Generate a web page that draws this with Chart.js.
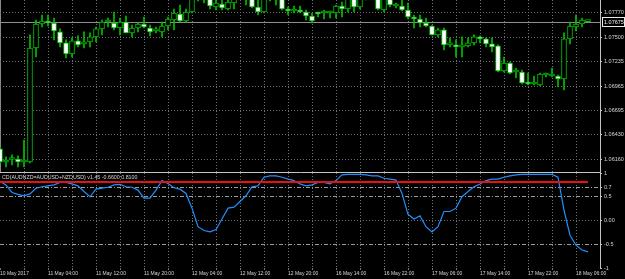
<!DOCTYPE html>
<html>
<head>
<meta charset="utf-8">
<script src="https://cdn.jsdelivr.net/npm/chart.js@4.4.1/dist/chart.umd.min.js"></script>
<style>
  html, body { margin: 0; padding: 0; background: #000; }
  body { width: 625px; height: 279px; position: relative; overflow: hidden; }
  canvas { position: absolute; left: 0; }
  #price { top: 0; }
  #cd { top: 166px; }
</style>
</head>
<body>
<canvas id="price" width="625" height="173"></canvas>
<canvas id="cd" width="625" height="113"></canvas>
<script>
// AUDUSD H1 candles (10 May 20:00 -> 18 May 08:00)
const openPrice = [
  1.06272, 1.06128, 1.06156, 1.06161, 1.06128, 1.06128, 1.07384, 1.07649, 1.07682, 1.07660,
  1.07561, 1.07440, 1.07318, 1.07462, 1.07429, 1.07451, 1.07506, 1.07594, 1.07671, 1.07660,
  1.07605, 1.07671, 1.07550, 1.07605, 1.07649, 1.07605, 1.07572, 1.07561, 1.07627, 1.07693,
  1.07759, 1.07682, 1.07781, 1.07946, 1.07957, 1.07946, 1.07836, 1.07869, 1.07814, 1.07880,
  1.07946, 1.07979, 1.07946, 1.07836, 1.07781, 1.07924, 1.07957, 1.07935, 1.07803, 1.07792,
  1.07803, 1.07781, 1.07737, 1.07781, 1.07770, 1.07770, 1.07770, 1.07847, 1.07814, 1.07935,
  1.07836, 1.07935, 1.07968, 1.07935, 1.07803, 1.07924, 1.07847, 1.07847, 1.07803, 1.07726,
  1.07704, 1.07660, 1.07627, 1.07528, 1.07583, 1.07418, 1.07407, 1.07396, 1.07407, 1.07440,
  1.07506, 1.07484, 1.07429, 1.07407, 1.07131, 1.07219, 1.07120, 1.07120, 1.06999, 1.06988,
  1.06977, 1.07087, 1.07076, 1.07076, 1.07043, 1.07484, 1.07616, 1.07649, 1.07675
];
const highPrice = [
  1.06294, 1.06184, 1.06206, 1.06195, 1.06371, 1.07528, 1.07693, 1.07748, 1.07748, 1.07715,
  1.07594, 1.07473, 1.07495, 1.07517, 1.07561, 1.07550, 1.07616, 1.07693, 1.07715, 1.07781,
  1.07715, 1.07737, 1.07638, 1.07660, 1.07726, 1.07638, 1.07616, 1.07671, 1.07726, 1.07814,
  1.07858, 1.07814, 1.07979, 1.08001, 1.08023, 1.07979, 1.07935, 1.07924, 1.07924, 1.07957,
  1.08023, 1.08023, 1.07979, 1.07924, 1.07957, 1.08001, 1.08001, 1.07968, 1.07836, 1.07847,
  1.07847, 1.07803, 1.07770, 1.07781, 1.07803, 1.07792, 1.07858, 1.07891, 1.07946, 1.07957,
  1.07957, 1.08001, 1.08012, 1.07957, 1.07968, 1.07957, 1.07880, 1.07913, 1.07880, 1.07748,
  1.07748, 1.07715, 1.07638, 1.07605, 1.07605, 1.07495, 1.07473, 1.07506, 1.07495, 1.07528,
  1.07517, 1.07495, 1.07495, 1.07418, 1.07285, 1.07230, 1.07164, 1.07142, 1.07109, 1.07076,
  1.07109, 1.07109, 1.07164, 1.07087, 1.07550, 1.07671, 1.07748, 1.07715, 1.07675
];
const lowPrice = [
  1.06106, 1.06073, 1.06095, 1.06073, 1.06073, 1.06117, 1.07285, 1.07616, 1.07627, 1.07473,
  1.07396, 1.07274, 1.07285, 1.07396, 1.07384, 1.07396, 1.07451, 1.07528, 1.07616, 1.07583,
  1.07528, 1.07550, 1.07506, 1.07561, 1.07605, 1.07517, 1.07550, 1.07506, 1.07583, 1.07583,
  1.07671, 1.07671, 1.07770, 1.07902, 1.07880, 1.07814, 1.07803, 1.07803, 1.07803, 1.07814,
  1.07924, 1.07858, 1.07825, 1.07748, 1.07770, 1.07902, 1.07858, 1.07803, 1.07748, 1.07770,
  1.07770, 1.07693, 1.07660, 1.07726, 1.07704, 1.07715, 1.07715, 1.07726, 1.07781, 1.07781,
  1.07814, 1.07913, 1.07924, 1.07803, 1.07781, 1.07836, 1.07825, 1.07792, 1.07704, 1.07605,
  1.07616, 1.07616, 1.07528, 1.07506, 1.07362, 1.07396, 1.07285, 1.07285, 1.07396, 1.07418,
  1.07440, 1.07396, 1.07340, 1.07120, 1.07120, 1.07098, 1.07054, 1.06988, 1.06977, 1.06977,
  1.06966, 1.07065, 1.07065, 1.06955, 1.06922, 1.07429, 1.07572, 1.07616, 1.07675
];
const closePrice = [
  1.06128, 1.06150, 1.06156, 1.06128, 1.06128, 1.07384, 1.07649, 1.07682, 1.07660, 1.07572,
  1.07440, 1.07318, 1.07462, 1.07418, 1.07451, 1.07506, 1.07594, 1.07671, 1.07671, 1.07605,
  1.07671, 1.07550, 1.07605, 1.07649, 1.07616, 1.07561, 1.07572, 1.07627, 1.07704, 1.07770,
  1.07682, 1.07781, 1.07935, 1.07968, 1.07979, 1.07847, 1.07880, 1.07825, 1.07891, 1.07935,
  1.07979, 1.07946, 1.07836, 1.07781, 1.07924, 1.07957, 1.07935, 1.07814, 1.07792, 1.07814,
  1.07781, 1.07737, 1.07682, 1.07759, 1.07770, 1.07770, 1.07847, 1.07814, 1.07924, 1.07836,
  1.07935, 1.07968, 1.07946, 1.07814, 1.07924, 1.07858, 1.07847, 1.07803, 1.07726, 1.07704,
  1.07660, 1.07627, 1.07528, 1.07583, 1.07418, 1.07418, 1.07396, 1.07407, 1.07440, 1.07506,
  1.07484, 1.07429, 1.07396, 1.07131, 1.07219, 1.07109, 1.07120, 1.06999, 1.06988, 1.06988,
  1.07098, 1.07087, 1.07076, 1.07043, 1.07484, 1.07627, 1.07649, 1.07693, 1.07675
];

// CD indicator buffer, one value per candle
const cdValues = [
  0.82, 0.75, 0.59, 0.55, 0.52, 0.56, 0.68, 0.71, 0.73, 0.75,
  0.80, 0.80, 0.77, 0.73, 0.61, 0.50, 0.66, 0.68, 0.70, 0.75,
  0.76, 0.71, 0.70, 0.64, 0.47, 0.47, 0.64, 0.84, 0.78, 0.69,
  0.66, 0.57, 0.26, -0.13, -0.21, -0.24, -0.19, 0.03, 0.26, 0.28,
  0.40, 0.52, 0.71, 0.73, 0.91, 0.94, 0.94, 0.91, 0.87, 0.84,
  0.77, 0.73, 0.75, 0.80, 0.80, 0.77, 0.84, 0.96, 0.97, 0.97,
  0.97, 0.96, 0.94, 0.94, 0.89, 0.87, 0.85, 0.57, 0.13, 0.03,
  0.10, -0.13, -0.24, -0.13, 0.19, 0.19, 0.26, 0.50, 0.61, 0.71,
  0.77, 0.84, 0.87, 0.87, 0.91, 0.94, 0.96, 0.97, 0.97, 0.97,
  0.97, 0.97, 0.97, 0.91, 0.22, -0.31, -0.52, -0.62, -0.66
];
const signalLevel = 0.81;
const indicatorName = 'CD(AUDNZD=AUDUSD+NZDUSD) v1.45';

const timeLabels = [
  '10 May 2017', '11 May 04:00', '11 May 12:00', '11 May 20:00', '12 May 04:00',
  '12 May 12:00', '12 May 20:00', '16 May 14:00', '16 May 22:00', '17 May 06:00',
  '17 May 14:00', '17 May 22:00', '18 May 06:00'
];
const priceTicks = [1.07770, 1.07500, 1.07235, 1.06965, 1.06695, 1.06430, 1.06160];
const cdTicks = [1, 0.7, 0.5, 0, -0.5, -1];
const cdTickLabels = ['1', '0.7', '0.5', '0.00', '-0.5', '-1'];

// look
const GREEN = '#00c000';
const GRID = '#6a7178';
const LEVEL = '#9a9a9a';
const AXIS = '#c4c4c4';
const TEXT = '#d6d6d6';
const FONT = 'Liberation Sans';
const NONE = 'rgba(0,0,0,0)';

Chart.defaults.font.family = FONT;

const bars = openPrice.map((_, i) => i);
const lastClose = closePrice[closePrice.length - 1];
// vertical grid every 4 bars, time labels every 8 bars
const vTicks = [];
for (let v = 0; v <= 96; v += 4) vTicks.push(v);

const isTick = (c, v) => c.tick && c.tick.value === v;

// Цена: линия текущей цены и метка на шкале
const lastPricePlugin = {
    id: 'lastPrice',
    beforeDatasetsDraw(chart) {
        const { ctx, chartArea, scales: { y } } = chart;
        const py = Math.round(y.getPixelForValue(lastClose)) + 0.5;
        ctx.save();
        ctx.strokeStyle = '#8e8e8e';
        ctx.lineWidth = 1;
        ctx.beginPath();
        ctx.moveTo(chartArea.left, py);
        ctx.lineTo(chartArea.right, py);
        ctx.stroke();
        ctx.restore();
    },
    afterDraw(chart) {
        const { ctx, scales: { y } } = chart;
        const py = Math.round(y.getPixelForValue(lastClose));
        ctx.save();
        ctx.fillStyle = '#000';
        ctx.fillRect(y.left + 2, py - 5, 23, 10);
        ctx.strokeStyle = '#e8e8e8';
        ctx.strokeRect(y.left + 2.5, py - 4.5, 22, 9);
        ctx.fillStyle = '#f0f0f0';
        ctx.font = '5.5px ' + FONT;
        ctx.textBaseline = 'middle';
        ctx.fillText(lastClose.toFixed(5), y.left + 4, py + 0.5);
        ctx.restore();
    }
};

new Chart(document.getElementById('price'), {
    type: 'bar',
    data: {
        datasets: [
            {
                label: 'body',
                data: bars.map(i => ({ x: i, y: [openPrice[i], closePrice[i]] })),
                backgroundColor: bars.map(i => closePrice[i] >= openPrice[i] ? '#000' : '#fff'),
                borderColor: GREEN,
                borderWidth: 1,
                borderSkipped: false,
                barThickness: 5,
                minBarLength: 2,
                grouped: false,
            },
            {
                label: 'wick',
                data: bars.map(i => ({ x: i, y: [lowPrice[i], highPrice[i]] })),
                backgroundColor: GREEN,
                borderWidth: 0,
                barThickness: 1,
                grouped: false,
            },
        ],
    },
    options: {
        responsive: false,
        animation: false,
        events: [],
        layout: { padding: 0 },
        plugins: { legend: { display: false }, tooltip: { enabled: false } },
        scales: {
            x: {
                type: 'linear', min: 0, max: 100, offset: false,
                afterBuildTicks: s => { s.ticks = vTicks.map(v => ({ value: v })); },
                afterFit: s => { s.height = 1; s.paddingLeft = 0; s.paddingRight = 0; },
                ticks: { display: false },
                grid: { offset: false, drawTicks: false, color: c => isTick(c, 0) ? '#8a8a8a' : GRID },
                border: { display: true, color: AXIS, dash: c => isTick(c, 0) ? [] : [1, 2] },
            },
            y: {
                position: 'right', min: 1.06018, max: 1.07913,
                afterBuildTicks: s => { s.ticks = priceTicks.map(v => ({ value: v })); },
                afterFit: s => { s.width = 25; s.paddingTop = 0; s.paddingBottom = 0; },
                ticks: {
                    color: TEXT, font: { size: 5.5 }, padding: 2, autoSkip: false,
                    callback: v => v.toFixed(5),
                },
                grid: { color: GRID, tickLength: 2, tickColor: AXIS },
                border: { display: true, color: AXIS, dash: [1, 2] },
            },
        },
    },
    plugins: [lastPricePlugin],
});

// Подпись индикатора в левом верхнем углу
const titlePlugin = {
    id: 'cdTitle',
    afterDraw(chart) {
        const { ctx, chartArea } = chart;
        const text = indicatorName + ' ' + cdValues[cdValues.length - 1].toFixed(4) + ' ' + signalLevel.toFixed(4);
        ctx.save();
        ctx.fillStyle = TEXT;
        ctx.font = '5.3px ' + FONT;
        ctx.textBaseline = 'middle';
        ctx.fillText(text, chartArea.left + 2, chartArea.top + 5);
        ctx.restore();
    }
};

new Chart(document.getElementById('cd'), {
    type: 'line',
    data: {
        datasets: [
            {
                label: 'signal',
                data: [{ x: bars[0], y: signalLevel }, { x: bars[bars.length - 1], y: signalLevel }],
                borderColor: '#e81010',
                borderWidth: 2,
                pointRadius: 0,
            },
            {
                label: 'cd',
                data: bars.map(i => ({ x: i, y: cdValues[i] })),
                borderColor: '#1e90ff',
                borderWidth: 1.2,
                pointRadius: 0,
                tension: 0,
            },
        ],
    },
    options: {
        responsive: false,
        animation: false,
        events: [],
        layout: { padding: { top: 7 } },
        plugins: { legend: { display: false }, tooltip: { enabled: false } },
        scales: {
            x: {
                type: 'linear', min: 0, max: 100,
                afterBuildTicks: s => { s.ticks = vTicks.map(v => ({ value: v })); },
                afterFit: s => { s.height = 11; s.paddingLeft = 0; s.paddingRight = 0; },
                ticks: {
                    color: TEXT, font: { size: 5 }, padding: 1, align: 'start',
                    maxRotation: 0, autoSkip: false,
                    callback: v => v % 8 === 0 ? timeLabels[v / 8] : '',
                },
                grid: { color: c => isTick(c, 0) ? NONE : GRID, tickLength: 2, tickColor: GRID },
                border: { display: false, dash: [1, 2] },
            },
            y: {
                position: 'right', min: -1, max: 1,
                afterBuildTicks: s => { s.ticks = cdTicks.map(v => ({ value: v })); },
                afterFit: s => { s.width = 25; s.paddingTop = 0; s.paddingBottom = 0; },
                ticks: {
                    color: TEXT, font: { size: 5.5 }, padding: 2, autoSkip: false,
                    callback: v => cdTickLabels[cdTicks.indexOf(v)],
                },
                grid: {
                    color: c => (isTick(c, 1) || isTick(c, -1)) ? NONE : (isTick(c, 0) ? GRID : LEVEL),
                    tickLength: 2, tickColor: AXIS,
                },
                border: { display: true, color: AXIS, dash: c => isTick(c, 0) ? [1, 2] : [4, 2, 1, 2] },
            },
        },
    },
    plugins: [titlePlugin],
});
</script>
</body>
</html>
